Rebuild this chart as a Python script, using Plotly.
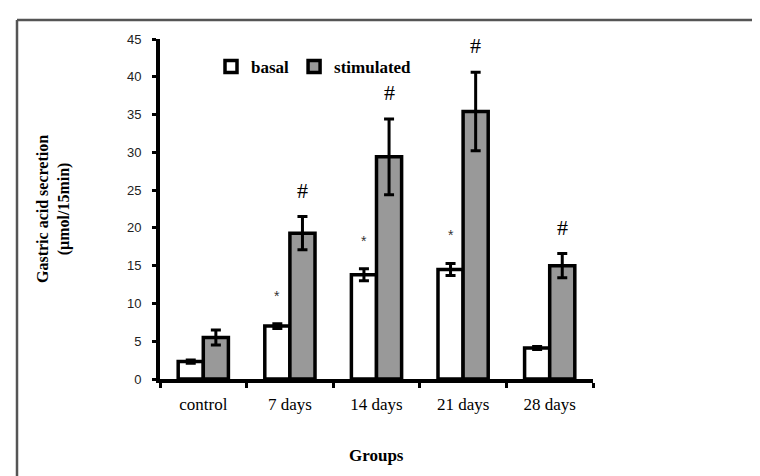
import plotly.graph_objects as go

groups = ["control", "7 days", "14 days", "21 days", "28 days"]
basal = [2.3, 7.0, 13.8, 14.5, 4.1]
basal_err = [0.2, 0.3, 0.8, 0.8, 0.2]
stimulated = [5.5, 19.3, 29.4, 35.4, 15.0]
stimulated_err = [1.0, 2.2, 5.0, 5.2, 1.6]
basal_marks = ["", "*", "*", "*", ""]
stim_marks = ["", "#", "#", "#", "#"]
y_ticks = [0, 5, 10, 15, 20, 25, 30, 35, 40, 45]

SERIF = "Liberation Serif, Times New Roman, serif"
SANS = "Liberation Sans, Arial, sans-serif"
BARGAP = 0.42

# plot area in pixels
L, R, T, B = 152, 585, 31, 371
W, H = 760, 476

def px_x(px):
    return (px - L) / (R - L)

def px_y(py):
    return (B - py) / (B - T)

fig = go.Figure()
fig.add_trace(go.Bar(
    x=groups, y=basal, name="basal",
    marker=dict(color="white", line=dict(color="black", width=3.5)),
    error_y=dict(type="data", array=basal_err, color="black", thickness=3, width=5),
))
fig.add_trace(go.Bar(
    x=groups, y=stimulated, name="stimulated",
    marker=dict(color="#999999", line=dict(color="black", width=3.5)),
    error_y=dict(type="data", array=stimulated_err, color="black", thickness=3, width=5),
))

half = (1 - BARGAP) / 4
for i, g in enumerate(groups):
    if basal_marks[i]:
        fig.add_annotation(x=i - half, y=basal[i] + basal_err[i], text=basal_marks[i],
                           showarrow=False, yanchor="bottom", yshift=18,
                           font=dict(family=SANS, size=14, color="#333"))
    if stim_marks[i]:
        fig.add_annotation(x=i + half, y=stimulated[i] + stimulated_err[i], text=stim_marks[i],
                           showarrow=False, yanchor="bottom", yshift=12,
                           font=dict(family=SERIF, size=22, color="black"))

# axis titles
fig.add_annotation(xref="paper", yref="paper", x=px_x(45), y=0.5,
                   xanchor="center", yanchor="middle",
                   text="<b>Gastric acid secretion<br>(µmol/15min)</b>", textangle=-90,
                   showarrow=False, font=dict(family=SERIF, size=16, color="black"))
fig.add_annotation(xref="paper", yref="paper", x=0.5, y=px_y(447),
                   xanchor="center", yanchor="middle",
                   text="<b>Groups</b>", showarrow=False,
                   font=dict(family=SERIF, size=17, color="black"))

# frame lines (top and left)
fig.add_shape(type="line", xref="paper", yref="paper",
              x0=px_x(9), x1=px_x(W + 5), y0=px_y(12), y1=px_y(12),
              line=dict(color="#555555", width=2.5))
fig.add_shape(type="line", xref="paper", yref="paper",
              x0=px_x(9), x1=px_x(9), y0=px_y(12), y1=px_y(H + 5),
              line=dict(color="#555555", width=2.5))

fig.update_layout(
    width=W, height=H,
    margin=dict(l=L, r=W - R, t=T, b=H - B),
    paper_bgcolor="white", plot_bgcolor="white",
    barmode="group", bargap=BARGAP, bargroupgap=0,
    showlegend=True,
    legend=dict(orientation="h", x=px_x(203), y=px_y(41), xanchor="left", yanchor="top",
                font=dict(family=SERIF, size=17, color="black", weight="bold"),
                bgcolor="rgba(0,0,0,0)", itemwidth=30, tracegroupgap=0),
    xaxis=dict(showline=True, linecolor="black", linewidth=4, ticks="outside",
               tickson="boundaries", ticklen=5, tickwidth=3, tickcolor="black",
               tickfont=dict(family=SERIF, size=17, color="black"),
               ticklabelstandoff=7, showgrid=False, zeroline=False),
    yaxis=dict(range=[0, 45], tickvals=y_ticks, showline=True, linecolor="black",
               linewidth=4, ticks="outside", ticklen=4, tickwidth=3, tickcolor="black",
               tickfont=dict(family=SANS, size=13, color="#222"),
               showgrid=False, zeroline=False, ticklabelstandoff=8),
)

fig.write_html("out.html")
